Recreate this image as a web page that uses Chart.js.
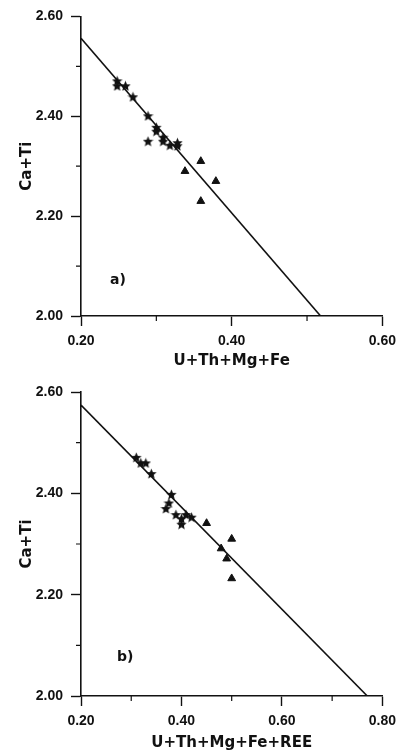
<!DOCTYPE html>
<html>
<head>
<meta charset="utf-8">
<script src="https://cdn.jsdelivr.net/npm/chart.js@4.4.1/dist/chart.umd.min.js"></script>
<style>
  html, body { margin: 0; padding: 0; background: #fff; }
  #wrap { position: relative; width: 403px; height: 756px; }
  #wrap canvas { position: absolute; left: 0; }
  #chartA { top: 0; }
  #chartB { top: 370px; }
</style>
</head>
<body>
<div id="wrap">
  <canvas id="chartA" width="403" height="370"></canvas>
  <canvas id="chartB" width="403" height="386"></canvas>
</div>
<script>
/* Ca+Ti vs substituting cations — two panels, a) and b) */

// panel a) U+Th+Mg+Fe
var aStarX = [0.248, 0.248, 0.259, 0.269, 0.289, 0.300, 0.300, 0.289, 0.309, 0.309, 0.318, 0.328, 0.328];
var aStarY = [2.471, 2.461, 2.461, 2.439, 2.401, 2.378, 2.370, 2.350, 2.358, 2.350, 2.342, 2.347, 2.341];
var aTriX = [0.359, 0.338, 0.379, 0.359];
var aTriY = [2.310, 2.290, 2.270, 2.230];
var aLineX = [0.20, 0.518];
var aLineY = [2.556, 2.00];
var aXTicks = [0.20, 0.40, 0.60];

// panel b) U+Th+Mg+Fe+REE
var bStarX = [0.310, 0.319, 0.329, 0.340, 0.380, 0.375, 0.369, 0.389, 0.400, 0.400, 0.409, 0.420];
var bStarY = [2.471, 2.460, 2.460, 2.439, 2.398, 2.381, 2.370, 2.358, 2.350, 2.339, 2.358, 2.353];
var bTriX = [0.450, 0.500, 0.479, 0.490, 0.500];
var bTriY = [2.341, 2.310, 2.291, 2.271, 2.232];
var bLineX = [0.20, 0.770];
var bLineY = [2.574, 2.00];
var bXTicks = [0.20, 0.40, 0.60, 0.80];

var yTicks = [2.00, 2.20, 2.40, 2.60];

(function () {
    'use strict';

    var ink = '#111';
    var tickFont = { family: '"Liberation Sans", Arial, sans-serif', size: 14, weight: 'bold' };
    var titleFont = { family: '"DejaVu Sans", sans-serif', size: 15, weight: 'bold' };

    function pts(xs, ys) {
        return xs.map(function (x, i) { return { x: x, y: ys[i] }; });
    }

    // filled five-point star used as point marker
    function starMark(size) {
        var c = document.createElement('canvas');
        c.width = size; c.height = size;
        var g = c.getContext('2d');
        var r = size / 2, ri = r * 0.45;
        g.beginPath();
        for (var i = 0; i < 10; i++) {
            var rad = i % 2 ? ri : r;
            var a = -Math.PI / 2 + i * Math.PI / 5;
            g.lineTo(r + rad * Math.cos(a), r + 0.5 + rad * Math.sin(a));
        }
        g.closePath();
        g.fillStyle = ink;
        g.fill();
        return c;
    }
    var star = starMark(11);

    // minor ticks half way between labelled ones, plus the panel letter
    var extras = {
        id: 'extras',
        afterDraw: function (chart, args, opts) {
            var ctx = chart.ctx, xs = chart.scales.x, ys = chart.scales.y;
            ctx.save();
            ctx.strokeStyle = ink;
            ctx.lineWidth = 1.2;
            ctx.beginPath();
            opts.xMinor.forEach(function (v) {
                var px = xs.getPixelForValue(v);
                ctx.moveTo(px, ys.bottom); ctx.lineTo(px, ys.bottom + 5);
            });
            opts.yMinor.forEach(function (v) {
                var py = ys.getPixelForValue(v);
                ctx.moveTo(xs.left, py); ctx.lineTo(xs.left - 5, py);
            });
            ctx.stroke();
            ctx.fillStyle = ink;
            ctx.font = 'bold 14px "DejaVu Sans", sans-serif';
            ctx.textAlign = 'center';
            ctx.textBaseline = 'middle';
            ctx.fillText(opts.label, xs.getPixelForValue(opts.at[0]), ys.getPixelForValue(opts.at[1]));
            ctx.restore();
        }
    };

    function panel(id, cfg) {
        var el = document.getElementById(id);
        return new Chart(el.getContext('2d'), {
            type: 'scatter',
            data: {
                datasets: [
                    { data: pts(cfg.lineX, cfg.lineY), showLine: true, borderColor: ink,
                      borderWidth: 1.6, pointRadius: 0, order: 2 },
                    { data: pts(cfg.starX, cfg.starY), pointStyle: star, pointRadius: 5, order: 1 },
                    { data: pts(cfg.triX, cfg.triY), pointStyle: 'triangle', pointRadius: 4.5,
                      backgroundColor: ink, borderColor: ink, borderWidth: 1, order: 1 }
                ]
            },
            options: {
                responsive: false,
                animation: false,
                devicePixelRatio: 1,
                layout: { padding: { left: 0, top: cfg.top, right: cfg.right, bottom: 0 } },
                plugins: {
                    legend: { display: false },
                    tooltip: { enabled: false },
                    extras: { xMinor: cfg.xMinor, yMinor: [2.10, 2.30, 2.50], label: cfg.label, at: cfg.labelAt }
                },
                scales: {
                    x: {
                        type: 'linear', min: cfg.xTicks[0], max: cfg.xTicks[cfg.xTicks.length - 1],
                        afterFit: function (s) { s.height = cfg.xHeight; },
                        afterBuildTicks: function (s) { s.ticks = cfg.xTicks.map(function (v) { return { value: v }; }); },
                        ticks: { color: ink, font: tickFont, padding: 7, maxRotation: 0,
                                 callback: function (v) { return v.toFixed(2); } },
                        grid: { drawOnChartArea: false, tickLength: 10, tickColor: ink, tickWidth: 1.4 },
                        border: { color: ink, width: 1.6 },
                        title: { display: true, text: cfg.xTitle, color: ink, font: titleFont,
                                 padding: { top: 0, bottom: cfg.titlePad } }
                    },
                    y: {
                        type: 'linear', min: 2.0, max: 2.6,
                        afterFit: function (s) { s.width = 81; },
                        afterBuildTicks: function (s) { s.ticks = yTicks.map(function (v) { return { value: v }; }); },
                        ticks: { color: ink, font: tickFont, padding: 8,
                                 callback: function (v) { return v.toFixed(2); } },
                        grid: { drawOnChartArea: false, tickLength: 10, tickColor: ink, tickWidth: 1.4 },
                        border: { color: ink, width: 1.6 },
                        title: { display: true, text: 'Ca+Ti', color: ink, font: titleFont,
                                 padding: { top: 18, bottom: 0 } }
                    }
                }
            },
            plugins: [extras]
        });
    }

    panel('chartA', {
        starX: aStarX, starY: aStarY, triX: aTriX, triY: aTriY, lineX: aLineX, lineY: aLineY,
        xTicks: aXTicks, xMinor: [0.30, 0.50], xTitle: 'U+Th+Mg+Fe',
        top: 13, right: 20, xHeight: 54, titlePad: 0, label: 'a)', labelAt: [0.249, 2.071]
    });

    panel('chartB', {
        starX: bStarX, starY: bStarY, triX: bTriX, triY: bTriY, lineX: bLineX, lineY: bLineY,
        xTicks: bXTicks, xMinor: [0.30, 0.50, 0.70], xTitle: 'U+Th+Mg+Fe+REE',
        top: 22, right: 18, xHeight: 60, titlePad: 4, label: 'b)', labelAt: [0.288, 2.077]
    });
})();
</script>
</body>
</html>
